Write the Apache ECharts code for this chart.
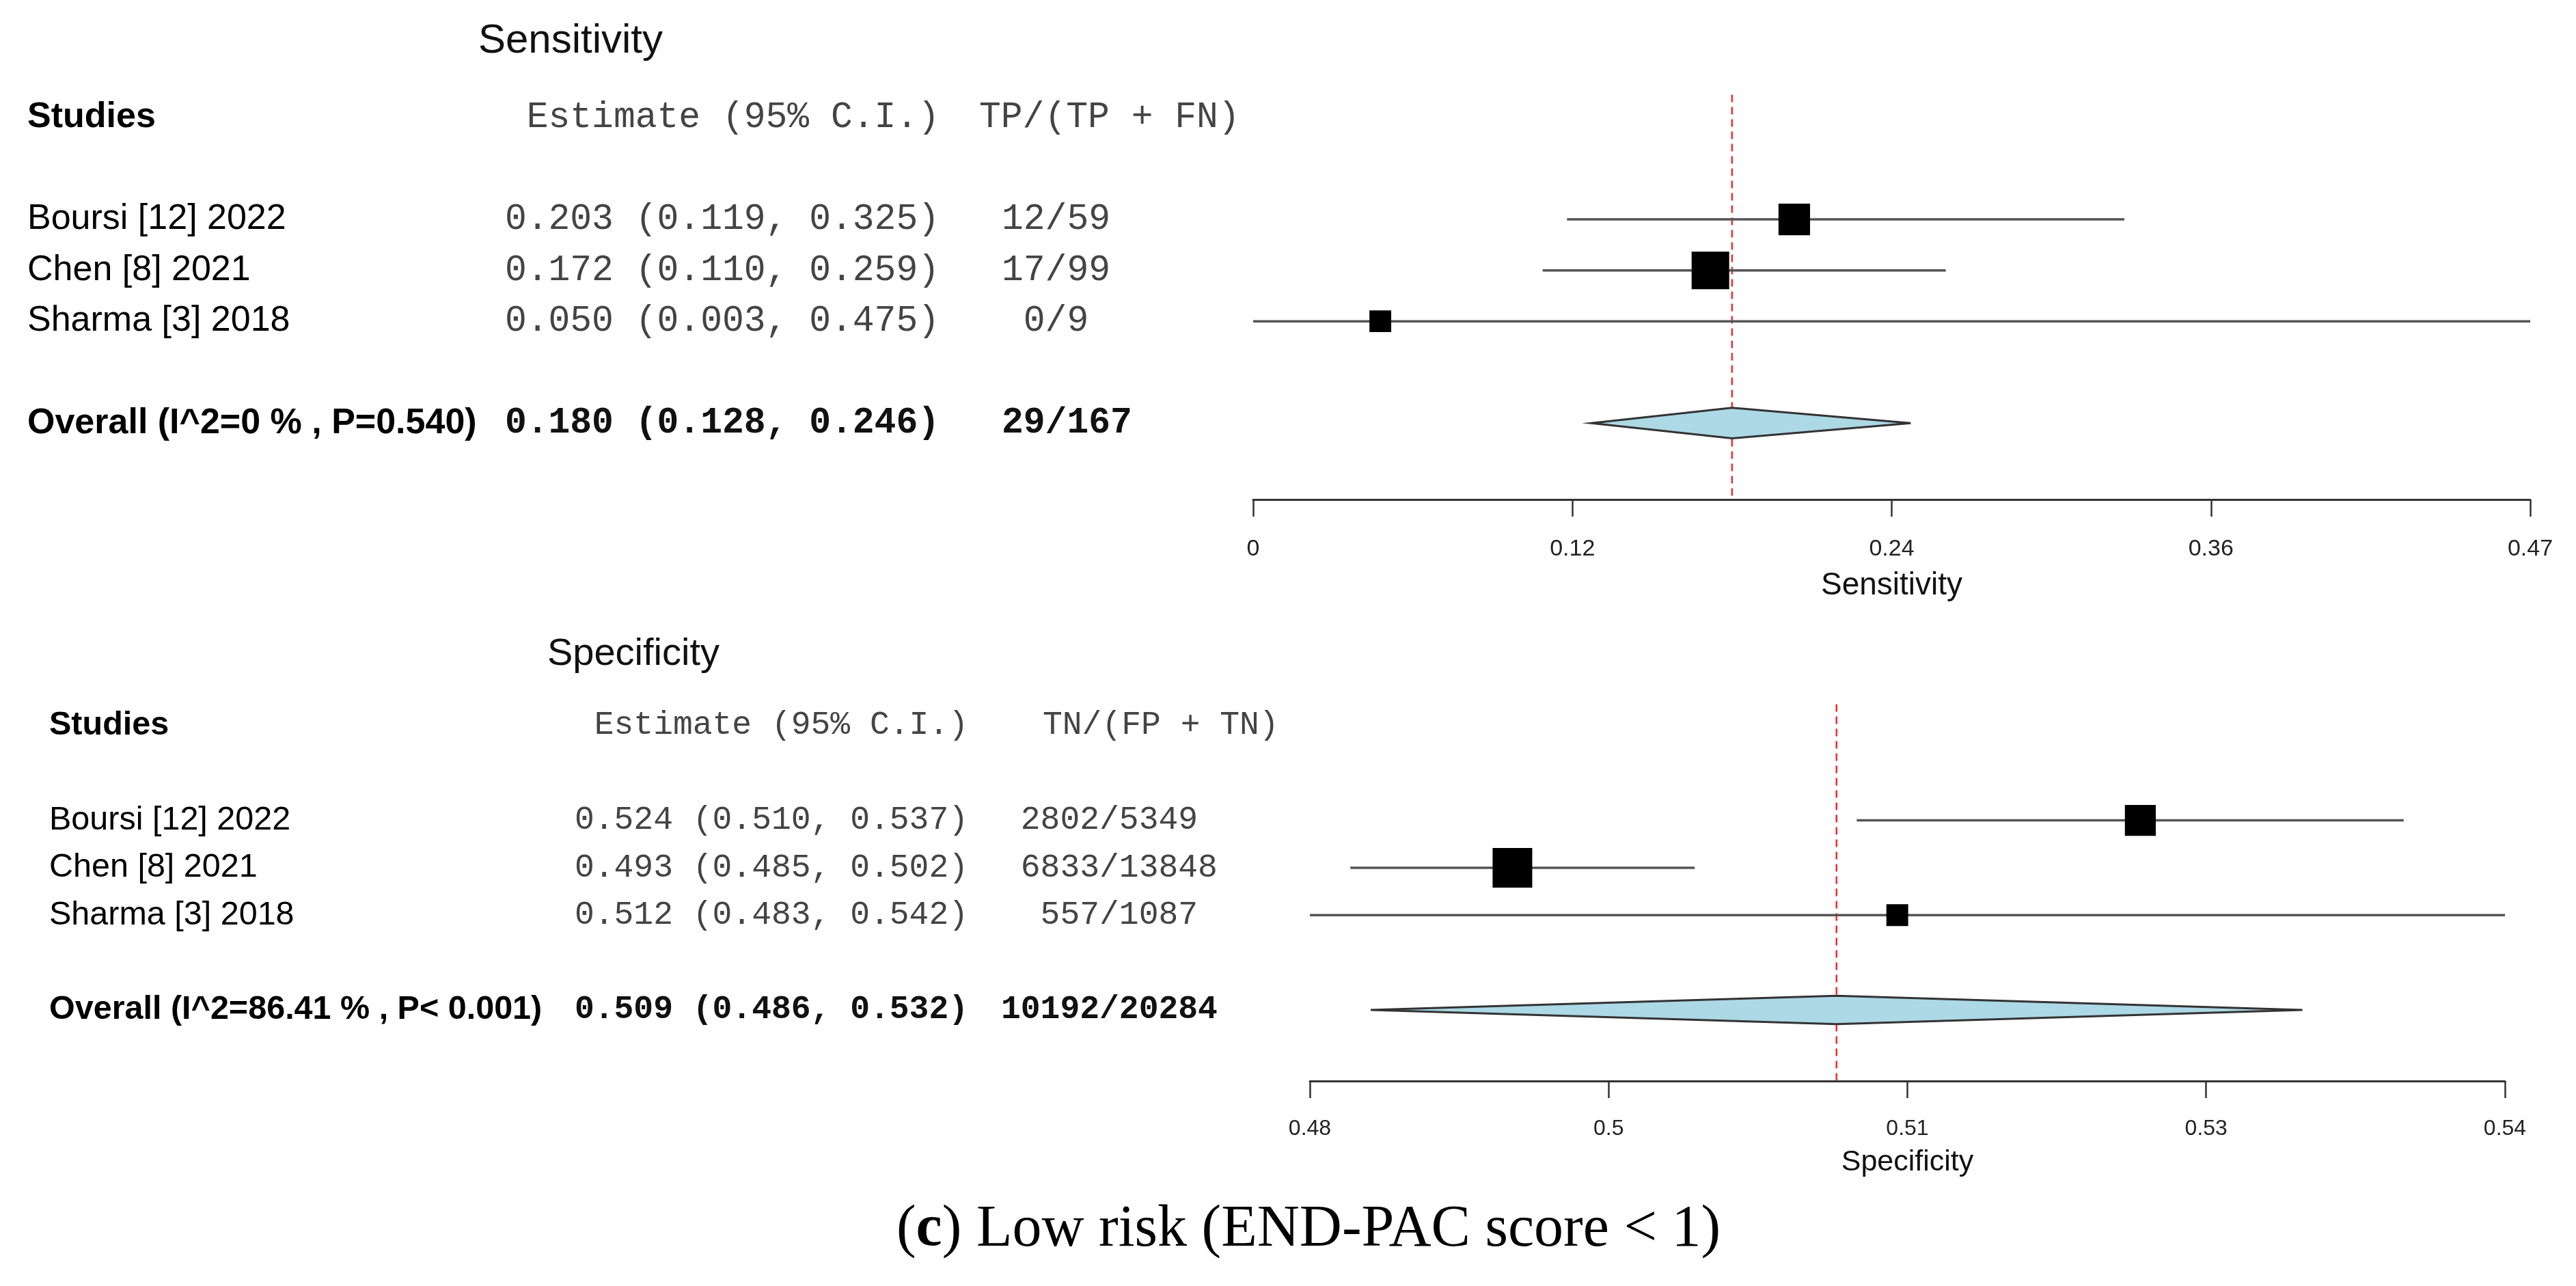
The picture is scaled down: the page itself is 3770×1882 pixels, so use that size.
<!DOCTYPE html>
<html><head><meta charset="utf-8">
<script src="https://cdn.jsdelivr.net/npm/echarts@6/dist/echarts.min.js"></script>
<style>html,body{margin:0;padding:0;background:#fff}#c{width:3770px;height:1882px}</style>
</head><body><div id="c"></div>
<script>
// ---------- data ----------
const studies = ['Boursi [12] 2022', 'Chen [8] 2021', 'Sharma [3] 2018'];

const sensEst = [0.203, 0.172, 0.050];
const sensLo = [0.119, 0.110, 0.003];
const sensHi = [0.325, 0.259, 0.475];
const sensTP = [12, 17, 0];
const sensPos = [59, 99, 9];
const sensWeights = [0.84, 1.0, 0.58];
const sensPooled = [0.180, 0.128, 0.246];
const sensPooledCount = [29, 167];
const sensOverallLabel = 'Overall (I^2=0 % , P=0.540)';
const sensTicks = [0.003, 0.121, 0.239, 0.357, 0.475];
const sensTickLabels = ['0', '0.12', '0.24', '0.36', '0.47'];

const specEst = [0.524, 0.493, 0.512];
const specLo = [0.510, 0.485, 0.483];
const specHi = [0.537, 0.502, 0.542];
const specTN = [2802, 6833, 557];
const specNeg = [5349, 13848, 1087];
const specWeights = [0.78, 1.0, 0.55];
const specPooled = [0.509, 0.486, 0.532];
const specPooledCount = [10192, 20284];
const specOverallLabel = 'Overall (I^2=86.41 % , P< 0.001)';
const specTicks = [0.483, 0.49775, 0.5125, 0.52725, 0.542];
const specTickLabels = ['0.48', '0.5', '0.51', '0.53', '0.54'];

// ---------- layout / style ----------
const SANS = '"Liberation Sans", Arial, sans-serif';
const MONO = '"Liberation Mono", "Courier New", monospace';
const SERIF = '"Liberation Serif", "Times New Roman", serif';

const panels = [
  {
    g: 0, title: 'Sensitivity', axisName: 'Sensitivity', countHead: 'TP/(TP + FN)',
    est: sensEst, lo: sensLo, hi: sensHi, num: sensTP, den: sensPos, w: sensWeights,
    pooled: sensPooled, pooledCount: sensPooledCount, overall: sensOverallLabel,
    ticks: sensTicks, tickLabels: sensTickLabels,
    grid: { left: 1834, top: 60.25, width: 1869, height: 670.75 },
    sans: 52, mono: 53, titleSize: 60, labelX: 40, estRight: 1375, cntX: 1466, cntHeadX: 1433,
    titleX: 835, numW: 2, boxMax: 55, tickFont: 34, tickMargin: 56, nameFont: 46, nameGap: 103
  },
  {
    g: 1, title: 'Specificity', axisName: 'Specificity', countHead: 'TN/(FP + TN)',
    est: specEst, lo: specLo, hi: specHi, num: specTN, den: specNeg, w: specWeights,
    pooled: specPooled, pooledCount: specPooledCount, overall: specOverallLabel,
    ticks: specTicks, tickLabels: specTickLabels,
    grid: { left: 1917, top: 957.75, width: 1749, height: 624.25 },
    sans: 48.5, mono: 48, titleSize: 56, labelX: 72, estRight: 1417, cntX: 1465, cntHeadX: 1526,
    titleX: 927, numW: 5, boxMax: 58, tickFont: 32, tickMargin: 54, nameFont: 43, nameGap: 98
  }
];

const fmt3 = v => v.toFixed(3);
const countStr = (n, d, w) => String(n).padStart(w, ' ') + '/' + d;

const grids = [], xAxes = [], yAxes = [], series = [];

panels.forEach(p => {
  const xmin = Math.min(...p.lo), xmax = Math.max(...p.hi);
  grids.push(Object.assign({ containLabel: false }, p.grid));
  xAxes.push({
    gridIndex: p.g, type: 'value', min: xmin, max: xmax, position: 'bottom',
    name: p.axisName, nameLocation: 'middle', nameGap: p.nameGap,
    nameTextStyle: { fontFamily: SANS, fontSize: p.nameFont, color: '#111' },
    axisLine: { show: true, onZero: false, lineStyle: { color: '#333', width: 3 } },
    axisTick: { show: true, inside: false, length: 25, customValues: p.ticks, lineStyle: { color: '#333', width: 2.5 } },
    axisLabel: {
      show: true, customValues: p.ticks, margin: p.tickMargin, hideOverlap: false,
      fontFamily: SANS, fontSize: p.tickFont, color: '#222',
      formatter: v => {
        let best = 0, bd = Infinity;
        p.ticks.forEach((t, i) => { const d = Math.abs(t - v); if (d < bd) { bd = d; best = i; } });
        return p.tickLabels[best];
      }
    },
    splitLine: { show: false }
  });
  yAxes.push({ gridIndex: p.g, type: 'value', inverse: true, min: -3.5, max: 5.5, show: false });

  // reference (pooled) dashed line
  series.push({
    type: 'line', xAxisIndex: p.g, yAxisIndex: p.g, silent: true, symbol: 'none', z: 1,
    data: [[p.pooled[0], -2.45], [p.pooled[0], 5.5]],
    lineStyle: { color: '#EE2C2C', width: 2.5, type: [11, 7] }
  });

  // confidence interval lines
  series.push({
    type: 'custom', xAxisIndex: p.g, yAxisIndex: p.g, silent: true, z: 2,
    data: studies.map((s, i) => [p.lo[i], p.hi[i], i]),
    encode: { x: [0, 1], y: 2 },
    renderItem: (params, api) => {
      const a = api.coord([api.value(0), api.value(2)]);
      const b = api.coord([api.value(1), api.value(2)]);
      return { type: 'line', shape: { x1: a[0], y1: a[1], x2: b[0], y2: b[1] },
        style: { stroke: '#555', lineWidth: 3.5 } };
    }
  });

  // study boxes
  series.push({
    type: 'scatter', xAxisIndex: p.g, yAxisIndex: p.g, silent: true, z: 3,
    symbol: 'rect',
    symbolSize: (val, params) => p.w[params.dataIndex] * p.boxMax,
    itemStyle: { color: '#000', opacity: 1 },
    data: studies.map((s, i) => [p.est[i], i])
  });

  // pooled diamond
  series.push({
    type: 'custom', xAxisIndex: p.g, yAxisIndex: p.g, silent: true, z: 3,
    data: [[p.pooled[1], p.pooled[0], p.pooled[2], 4]],
    encode: { x: [0, 1, 2], y: 3 },
    renderItem: (params, api) => {
      const r = api.value(3), h = 0.3;
      const pts = [
        api.coord([api.value(0), r]), api.coord([api.value(1), r - h]),
        api.coord([api.value(2), r]), api.coord([api.value(1), r + h])
      ];
      return { type: 'polygon', shape: { points: pts },
        style: { fill: '#ADD8E6', stroke: '#333', lineWidth: 3 } };
    }
  });

  // table text (rows placed through the same y scale)
  const rows = [];
  rows.push({ value: [xmin, -3.5], kind: 'title' });
  rows.push({ value: [xmin, -2], kind: 'header' });
  studies.forEach((s, i) => rows.push({ value: [xmin, i], kind: 'study', i: i }));
  rows.push({ value: [xmin, 4], kind: 'overall' });

  series.push({
    type: 'custom', xAxisIndex: p.g, yAxisIndex: p.g, silent: true, clip: false, z: 5,
    data: rows.map(r => r.value),
    encode: { x: 0, y: 1 },
    renderItem: (params, api) => {
      const r = rows[params.dataIndex];
      const y = api.coord([xmin, r.value[1]])[1];
      const t = (text, x, font, fill, align) => ({
        type: 'text', style: { text: text, x: x, y: y, font: font, fill: fill, align: align, verticalAlign: 'middle' }
      });
      const sans = p.sans + 'px ' + SANS, sansB = 'bold ' + p.sans + 'px ' + SANS;
      const mono = p.mono + 'px ' + MONO, monoB = 'bold ' + p.mono + 'px ' + MONO;
      let kids = [];
      if (r.kind === 'title') {
        kids = [t(p.title, p.titleX, p.titleSize + 'px ' + SANS, '#111', 'center')];
      } else if (r.kind === 'header') {
        kids = [t('Studies', p.labelX, sansB, '#000', 'left'),
                t('Estimate (95% C.I.)', p.estRight, mono, '#444', 'right'),
                t(p.countHead, p.cntHeadX, mono, '#444', 'left')];
      } else if (r.kind === 'study') {
        const i = r.i;
        kids = [t(studies[i], p.labelX, sans, '#000', 'left'),
                t(fmt3(p.est[i]) + ' (' + fmt3(p.lo[i]) + ', ' + fmt3(p.hi[i]) + ')', p.estRight, mono, '#444', 'right'),
                t(countStr(p.num[i], p.den[i], p.numW), p.cntX, mono, '#444', 'left')];
      } else {
        kids = [t(p.overall, p.labelX, sansB, '#000', 'left'),
                t(fmt3(p.pooled[0]) + ' (' + fmt3(p.pooled[1]) + ', ' + fmt3(p.pooled[2]) + ')', p.estRight, monoB, '#111', 'right'),
                t(countStr(p.pooledCount[0], p.pooledCount[1], p.numW), p.cntX, monoB, '#111', 'left')];
      }
      return { type: 'group', children: kids };
    }
  });
});

const chart = echarts.init(document.getElementById('c'), null, { renderer: 'canvas', width: 3770, height: 1882 });
chart.setOption({
  backgroundColor: '#ffffff',
  animation: false,
  grid: grids, xAxis: xAxes, yAxis: yAxes, series: series,
  graphic: [{
    type: 'text', x: 1915, y: 1800, silent: true,
    style: {
      text: '({b|c}) Low risk (END-PAC score < 1)',
      fontFamily: SERIF, fontSize: 86, fill: '#000', align: 'center', verticalAlign: 'middle',
      rich: { b: { fontFamily: SERIF, fontSize: 86, fontWeight: 'bold', fill: '#000' } }
    }
  }]
});
</script></body></html>
